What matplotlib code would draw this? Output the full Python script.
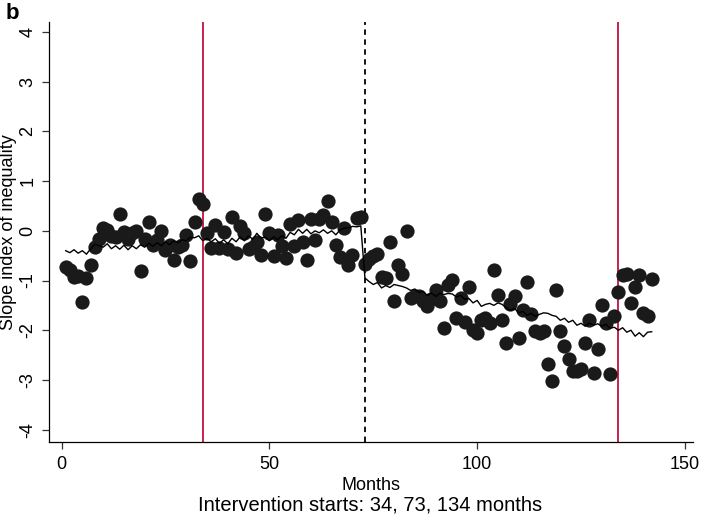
import numpy as np
import matplotlib.pyplot as plt

plt.rcParams['font.family'] = ['Liberation Sans', 'DejaVu Sans']

# monthly observed slope index (months 1..142)
observed = [
    -0.72, -0.79, -0.92, -0.91, -1.43, -0.95, -0.69, -0.32, -0.16, 0.06,
    0.02, -0.11, -0.12, 0.34, -0.03, -0.16, -0.05, -0.01, -0.80, -0.17,
    0.17, -0.28, -0.18, -0.01, -0.38, -0.28, -0.58, -0.33, -0.28, -0.09,
    -0.60, 0.17, 0.64, 0.54, -0.05, -0.35, 0.12, -0.35, -0.03, -0.37,
    0.27, -0.44, 0.09, -0.05, -0.37, -0.33, -0.22, -0.48, 0.34, -0.05,
    -0.50, -0.08, -0.30, -0.55, 0.14, -0.30, 0.21, -0.22, -0.58, 0.24,
    -0.18, 0.24, 0.32, 0.60, 0.17, -0.28, -0.53, 0.05, -0.69, -0.48,
    0.26, 0.28, -0.66, -0.56, -0.50, -0.46, -0.92, -0.95, -0.23, -1.42,
    -0.69, -0.87, 0.00, -1.36, -1.32, -1.31, -1.42, -1.51, -1.38, -1.19,
    -1.42, -1.96, -1.09, -0.99, -1.76, -1.36, -1.83, -1.14, -2.00, -2.06,
    -1.79, -1.76, -1.86, -0.79, -1.29, -1.79, -2.26, -1.48, -1.32, -2.16,
    -1.59, -1.02, -1.68, -2.02, -2.06, -2.02, -2.67, -3.02, -1.19, -2.02,
    -2.32, -2.57, -2.82, -2.82, -2.78, -2.26, -1.79, -2.87, -2.38, -1.49,
    -1.86, -2.88, -1.71, -1.23, -0.89, -0.87, -1.46, -1.14, -0.89, -1.66,
    -1.71, -0.97,
]

# fitted values (segmented model)
fitted = [
    -0.40, -0.44, -0.38, -0.45, -0.40, -0.47, -0.36, -0.27, -0.30, -0.33,
    -0.26, -0.36, -0.30, -0.37, -0.29, -0.38, -0.30, -0.36, -0.28, -0.33,
    -0.25, -0.31, -0.24, -0.30, -0.22, -0.28, -0.20, -0.24, -0.18, -0.20,
    -0.13, -0.14, -0.10,
    -0.20, -0.15, -0.22, -0.16, -0.25, -0.18, -0.26, -0.15, -0.22, -0.12,
    -0.20, -0.10, -0.17, -0.05, -0.15, -0.12, -0.20, -0.12, -0.18, -0.10,
    -0.15, -0.03, -0.08, 0.03, -0.05, 0.03, -0.06, 0.00, -0.04, 0.02,
    -0.05, 0.00, -0.08, 0.02, 0.05, 0.06, 0.09, 0.08, 0.10,
    -0.95, -1.02, -1.08, -1.04, -1.15, -1.10, -1.14, -1.08, -1.10, -1.12,
    -1.15, -1.20, -1.17, -1.24, -1.22, -1.30, -1.25, -1.32, -1.26, -1.28,
    -1.26, -1.27, -1.33, -1.30, -1.38, -1.36, -1.45, -1.40, -1.52, -1.48,
    -1.46, -1.50, -1.45, -1.48, -1.55, -1.60, -1.56, -1.65, -1.62, -1.70,
    -1.66, -1.72, -1.68, -1.65, -1.66, -1.70, -1.72, -1.80, -1.76, -1.84,
    -1.80, -1.90, -1.86, -1.92, -1.86, -1.90, -1.87, -1.92, -1.88, -1.96,
    -1.94,
    -2.00, -1.95, -2.04, -2.00, -2.12, -2.05, -2.13, -2.04, -2.03,
]

months = np.arange(1, len(observed) + 1)
interventions = [34, 73, 134]
x_ticks = [0, 50, 100, 150]
y_ticks = [-4, -3, -2, -1, 0, 1, 2, 3, 4]

fig = plt.figure(figsize=(7.01, 5.14), dpi=100)
ax = fig.add_axes([0.070, 0.140, 0.919, 0.817])

ax.scatter(months, observed, s=105, color='#1a1a1a', zorder=3, linewidths=0)
ax.plot(months, fitted, color='black', lw=1.0, zorder=4)

red = '#c8204c'
ax.axvline(interventions[0], color=red, lw=1.4, zorder=2)
ax.axvline(interventions[1], color='black', lw=1.3, ls=(0, (3, 2.5)), zorder=2)
ax.axvline(interventions[2], color=red, lw=1.4, zorder=2)

ax.set_xlim(-3, 152)
ax.set_ylim(-4.25, 4.2)
ax.set_xticks(x_ticks)
ax.set_yticks(y_ticks)
ax.set_yticklabels([str(t) for t in y_ticks], rotation=90, va='center')
ax.tick_params(labelsize=13, length=5, width=0.9, color='#333333')
ax.tick_params(axis='y', pad=4)
ax.tick_params(axis='x', pad=5)
for s in ['top', 'right']:
    ax.spines[s].set_visible(False)
for s in ['left', 'bottom']:
    ax.spines[s].set_linewidth(0.9)

ax.set_ylabel('Slope index of inequality', fontsize=13, labelpad=2)
ax.set_xlabel('Months', fontsize=13, labelpad=3)
fig.text(0.528, 0.0175, 'Intervention starts: 34, 73, 134 months',
         ha='center', va='center', fontsize=14.5)
fig.text(0.008, 0.995, 'b', ha='left', va='top', fontsize=16, fontweight='bold')

fig.savefig('out.png', dpi=100)
